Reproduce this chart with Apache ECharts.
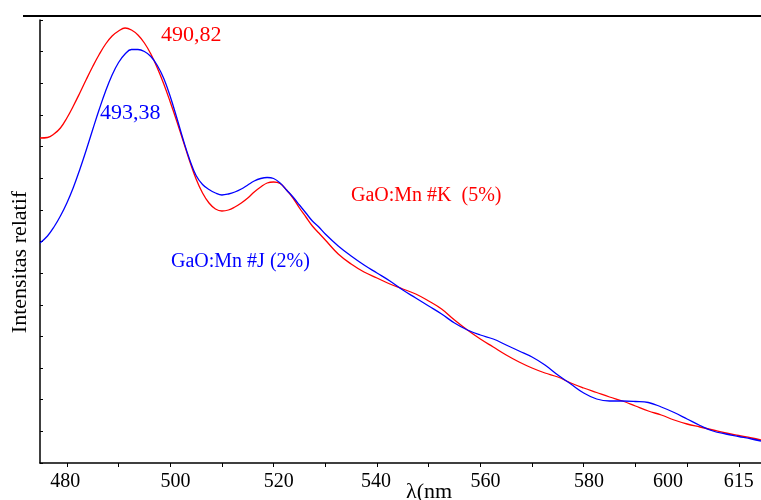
<!DOCTYPE html>
<html>
<head>
<meta charset="utf-8">
<script src="https://cdn.jsdelivr.net/npm/echarts@6/dist/echarts.min.js"></script>
<style>html,body{margin:0;padding:0;background:#fff}#c{width:761px;height:500px}</style>
</head>
<body>
<div id="c"></div>
<script>
// wavelength (nm) and relative intensity (arbitrary units, 14 ticks on the axis)
const wavelength = [474.8,476.25,477.5,478.75,480,481.25,482.5,483.75,485,486.25,487.5,488.75,490,491.25,492.5,493.75,495,496.25,497.5,498.75,500,501.25,502.5,503.75,505,506.25,507.5,508.75,510,511.25,512.5,513.75,515,516.25,517.5,518.75,520,521.25,522.5,523.75,525,526.25,527.5,528.75,530,
  532.5,535,537.5,540,542.5,545,547.5,550,552.5,555,557.5,560,562.5,565,567.5,570,572.5,575,577.5,580,582.5,585,587.5,590,592.5,595,597.5,600,602.5,605,607.5,610,612.5,614.3];
const redK = [325,325.5,329,335,345,357,370,383.5,396.5,408.5,419,427,432,435,433,428,420,409,395,379,361,342,322,302,284,270,260,254,252,253,256,260,265,271,276,280,281,279.5,273,265,255,246,237,230,223,
  209,199,191,185,179,174,169,162,154,143,133,124,116,108,101,95,90,86,80,75,70.5,66,62,57,52,48,43,39,36,33,30,27.5,25,23];
const blueJ = [220,227,236,247,260,275.5,293.5,313,333.5,353.5,372,388,400.5,409,413.5,413.5,411.5,406.5,397.5,384.5,366.5,345.5,323.5,303.5,287.5,278.5,273.5,270,268,269,271,274,278,282,284.5,285.5,284.5,280,273,266,258,250,242,236,229,
  217,207,198,190,182,173,165,157,149,140,133,128,124,118,112,106,98,88,79,70,64,62,62,61.5,60.5,56,50.5,44,37.5,32,29,26.5,24,22];

const xTickValues = [480,490,500,510,520,530,540,550,560,570,580,590,600,610];
const xLabelValues = [479.7,501,521,539.8,561,581,596.3,610];
const xLabelTexts = ['480','500','520','540','560','580','600','615'];

const seriesNames = ['GaO:Mn #K  (5%)','GaO:Mn #J (2%)'];
const peakTexts = ['490,82','493,38'];
const xAxisName = 'λ(nm';
const yAxisName = 'Intensitas relatif';

const FONT = '"Liberation Serif","Times New Roman",serif';
const zip = (a,b) => a.map((v,i)=>[v,b[i]]);

const chart = echarts.init(document.getElementById('c'), null, {renderer:'canvas'});
chart.setOption({
  animation:false,
  backgroundColor:'#fff',
  grid:{left:40, right:0, top:20, height:443},
  xAxis:{
    type:'value', min:474.8, max:614.3,
    axisLine:{onZero:false, lineStyle:{color:'#000', width:1.5}},
    axisTick:{show:true, length:4, inside:false, customValues:xTickValues, lineStyle:{color:'#000', width:1}},
    axisLabel:{show:true, customValues:xLabelValues, margin:9, color:'#000', fontFamily:FONT, fontSize:20,
      formatter:(v)=>{const i=xLabelValues.indexOf(v); return i>=0?xLabelTexts[i]:'';}},
    splitLine:{show:false}
  },
  yAxis:{
    type:'value', min:0, max:443, interval:443/14,
    axisLine:{show:true, lineStyle:{color:'#000', width:1.5}},
    axisTick:{show:true, inside:true, length:3, lineStyle:{color:'#000'}},
    axisLabel:{show:false},
    splitLine:{show:false}
  },
  series:[
    {name:seriesNames[0], type:'line', data:zip(wavelength,redK), showSymbol:false, smooth:0.4,
     lineStyle:{color:'#ff0000', width:1.3}, z:2},
    {name:seriesNames[1], type:'line', data:zip(wavelength,blueJ), showSymbol:false, smooth:0.4,
     lineStyle:{color:'#0000ff', width:1.3}, z:3}
  ],
  graphic:[
    {type:'line', shape:{x1:23,y1:16,x2:761,y2:16}, style:{stroke:'#000', lineWidth:2}},
    {type:'text', x:20, y:262, rotation:Math.PI/2,
     style:{text:yAxisName, fill:'#000', font:'22px '+FONT, textAlign:'center', textVerticalAlign:'middle'}},
    {type:'text', left:161, top:24, style:{text:peakTexts[0], fill:'#ff0000', font:'22px '+FONT}},
    {type:'text', left:100, top:102, style:{text:peakTexts[1], fill:'#0000ff', font:'22px '+FONT}},
    {type:'text', left:351, top:186, style:{text:seriesNames[0], fill:'#ff0000', font:'20px '+FONT}},
    {type:'text', left:171, top:252, style:{text:seriesNames[1], fill:'#0000ff', font:'20px '+FONT}},
    {type:'text', left:406, top:481, style:{text:xAxisName, fill:'#000', font:'22px '+FONT}}
  ]
});
</script>
</body>
</html>
